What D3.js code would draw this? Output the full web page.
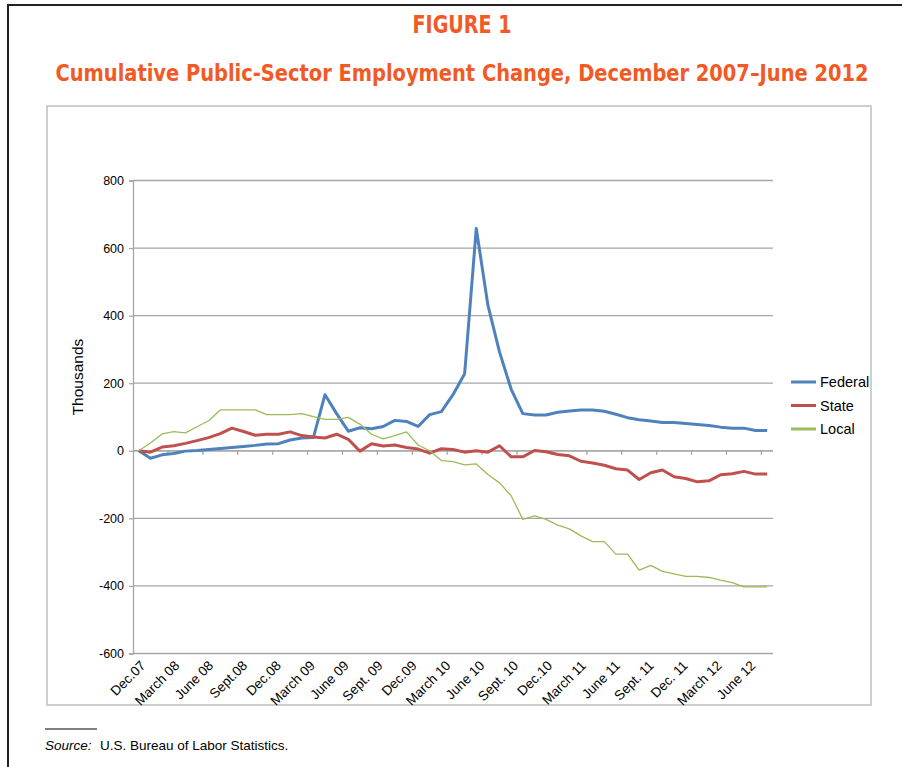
<!DOCTYPE html>
<html>
<head>
<meta charset="utf-8">
<script src="https://cdn.jsdelivr.net/npm/d3@7"></script>
<style>
  body { margin: 0; background: #fff; }
  svg { display: block; }
</style>
</head>
<body>
<svg id="chart"></svg>
<script>
// monthly categories, Dec 2007 .. June 2012
const months = [
  "Dec 07","Jan 08","Feb 08","Mar 08","Apr 08","May 08","Jun 08","Jul 08","Aug 08","Sep 08","Oct 08","Nov 08",
  "Dec 08","Jan 09","Feb 09","Mar 09","Apr 09","May 09","Jun 09","Jul 09","Aug 09","Sep 09","Oct 09","Nov 09",
  "Dec 09","Jan 10","Feb 10","Mar 10","Apr 10","May 10","Jun 10","Jul 10","Aug 10","Sep 10","Oct 10","Nov 10",
  "Dec 10","Jan 11","Feb 11","Mar 11","Apr 11","May 11","Jun 11","Jul 11","Aug 11","Sep 11","Oct 11","Nov 11",
  "Dec 11","Jan 12","Feb 12","Mar 12","Apr 12","May 12","Jun 12"
];

// x labels shown every third month
const tickLabels = ["Dec.07","March 08","June 08","Sept.08","Dec.08","March 09","June 09","Sept. 09","Dec.09",
  "March 10","June 10","Sept. 10","Dec.10","March 11","June 11","Sept. 11","Dec. 11","March 12","June 12"];

const yTicks = [-600, -400, -200, 0, 200, 400, 600, 800];

// thousands, cumulative change since Dec 2007
const federal = [0,-22,-12,-8,-1,1,4,7,10,13,16,20,21,32,38,39,166,110,58,68,65,72,90,87,72,107,116,166,
  228,658,431,292,182,110,106,106,114,118,121,121,117,108,98,92,88,84,84,81,78,75,70,67,67,60,60];
const state = [0,-4,11,15,22,30,39,51,67,57,46,49,49,56,45,41,38,49,34,-1,21,14,17,10,5,-7,6,4,
  -4,0,-4,15,-18,-18,1,-3,-11,-15,-31,-36,-43,-53,-57,-85,-65,-57,-77,-82,-92,-89,-71,-68,-61,-69,-69];
const local = [0,23,50,57,53,71,89,121,121,121,121,107,107,107,110,101,93,93,99,79,49,35,45,56,17,0,-29,-32,
  -42,-39,-70,-95,-133,-203,-193,-203,-220,-231,-252,-269,-269,-306,-306,-353,-339,-357,-364,-372,-372,-375,-383,-390,-403,-403,-403];

const series = [
  { name: "Federal", values: federal, color: "#4F81BD", width: 3 },
  { name: "State", values: state, color: "#C0504D", width: 3 },
  { name: "Local", values: local, color: "#9BBB59", width: 1.3 }
];

const W = 902, H = 767;
const orange = "#F15A24";
const font = "'Liberation Sans', Arial, sans-serif";
const titleFont = "'Liberation Sans Narrow', 'DejaVu Sans Condensed', 'Liberation Sans', sans-serif";

const svg = d3.select("#chart").attr("width", W).attr("height", H);

// outer frame (continues past the right and bottom edges)
svg.append("rect")
  .attr("x", 8).attr("y", 5).attr("width", 1000).attr("height", 1000)
  .attr("fill", "none").attr("stroke", "#222").attr("stroke-width", 2);

svg.append("text")
  .attr("x", 462).attr("y", 33)
  .attr("text-anchor", "middle")
  .attr("font-family", titleFont).attr("font-weight", "bold").attr("font-size", 24)
  .attr("fill", orange)
  .attr("textLength", 99).attr("lengthAdjust", "spacingAndGlyphs")
  .text("FIGURE 1");

svg.append("text")
  .attr("x", 462).attr("y", 81)
  .attr("text-anchor", "middle")
  .attr("font-family", titleFont).attr("font-weight", "bold").attr("font-size", 22.5)
  .attr("fill", orange)
  .attr("textLength", 813).attr("lengthAdjust", "spacingAndGlyphs")
  .text("Cumulative Public-Sector Employment Change, December 2007\u2013June 2012");

// chart box
svg.append("rect")
  .attr("x", 47).attr("y", 106).attr("width", 824).attr("height", 599)
  .attr("fill", "none").attr("stroke", "#BFBFBF").attr("stroke-width", 1.5);

const x = d3.scalePoint().domain(months).range([133, 773]).padding(0.5);
const y = d3.scaleLinear().domain([-600, 800]).range([653.5, 180.5]);
const step = x.step();
// Excel spreads the rotated labels a little tighter than the ticks
const xl = d3.scalePoint().domain(tickLabels).range([145, 755]);

// gridlines
svg.append("g")
  .selectAll("line")
  .data(yTicks)
  .join("line")
  .attr("x1", 133).attr("x2", 773)
  .attr("y1", d => y(d)).attr("y2", d => y(d))
  .attr("stroke", "#A6A6A6").attr("stroke-width", 1.3);

// y axis
const yAxis = svg.append("g")
  .attr("transform", "translate(133,0)")
  .call(d3.axisLeft(y).tickValues(yTicks).tickSize(4).tickPadding(5).tickFormat(d => String(d)));
yAxis.select(".domain").attr("stroke", "#A6A6A6").attr("stroke-width", 1.3);
yAxis.selectAll(".tick line").attr("stroke", "#A6A6A6").attr("stroke-width", 1.3);
yAxis.selectAll(".tick text")
  .attr("font-family", font).attr("font-size", 12.5).attr("fill", "#000");

svg.append("text")
  .attr("transform", "translate(83,377) rotate(-90)")
  .attr("text-anchor", "middle")
  .attr("font-family", font).attr("font-size", 15.5)
  .text("Thousands");

// category axis drawn along the zero line, ticks every three months
const tickIdx = d3.range(0, months.length, 3);
const xAxis = svg.append("g");
xAxis.append("line")
  .attr("x1", 133).attr("x2", 773)
  .attr("y1", y(0)).attr("y2", y(0))
  .attr("stroke", "#A6A6A6").attr("stroke-width", 1.3);
xAxis.selectAll(".xt")
  .data(tickIdx.slice(1))
  .join("line")
  .attr("class", "xt")
  .attr("x1", i => x(months[i]) - step / 2).attr("x2", i => x(months[i]) - step / 2)
  .attr("y1", y(0)).attr("y2", y(0) + 4)
  .attr("stroke", "#A6A6A6").attr("stroke-width", 1.3);

// labels sit below the plot
svg.append("g")
  .selectAll("text")
  .data(tickLabels)
  .join("text")
  .attr("transform", d => `translate(${xl(d) - 2},${y(-600) + 9.5}) rotate(-45)`)
  .attr("text-anchor", "end")
  .attr("dy", "0.35em")
  .attr("font-family", font).attr("font-size", 13.5)
  .text(d => d);

// lines
const line = d3.line()
  .x((d, i) => x(months[i]))
  .y(d => y(d));

svg.append("g")
  .selectAll("path")
  .data(series)
  .join("path")
  .attr("d", s => line(s.values))
  .attr("fill", "none")
  .attr("stroke", s => s.color)
  .attr("stroke-width", s => s.width)
  .attr("stroke-linejoin", "round");

// legend
const legend = svg.append("g")
  .selectAll("g")
  .data(series)
  .join("g")
  .attr("transform", (s, i) => `translate(791,${382 + i * 23.5})`);
legend.append("line")
  .attr("x1", 0).attr("x2", 25)
  .attr("stroke", s => s.color).attr("stroke-width", 3);
legend.append("text")
  .attr("x", 29).attr("dy", "0.35em")
  .attr("font-family", font).attr("font-size", 14.5)
  .text(s => s.name);

// source note
svg.append("line")
  .attr("x1", 45).attr("x2", 97).attr("y1", 729).attr("y2", 729)
  .attr("stroke", "#000").attr("stroke-width", 1);
const src = svg.append("text")
  .attr("x", 45).attr("y", 750)
  .attr("font-family", font).attr("font-size", 13.5);
src.append("tspan").attr("font-style", "italic").text("Source:");
src.append("tspan").attr("x", 100).text("U.S. Bureau of Labor Statistics.");
</script>
</body>
</html>
